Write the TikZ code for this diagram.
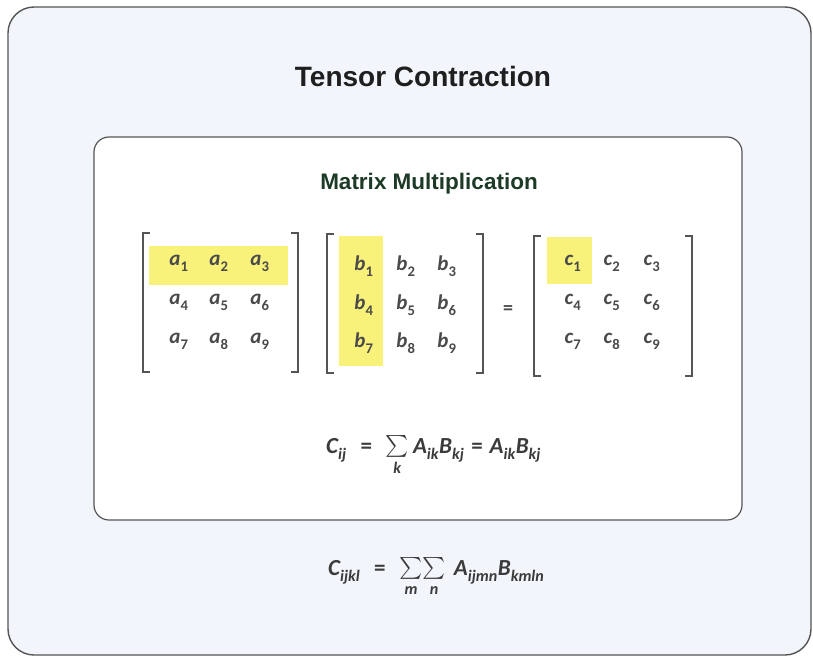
\documentclass[tikz,border=0pt]{standalone}
\usepackage{amsmath}
\usepackage{fontspec}
\setmainfont{Liberation Sans}
\newfontfamily\carl{Carlito}
\newcommand\mi[1]{\text{\carl\bfseries\itshape #1}}
\newcommand\ms[1]{\text{\carl\bfseries\itshape\raisebox{-2.5pt}{#1}}}
\newcommand\mn[1]{\text{\carl\bfseries\raisebox{-3pt}{#1}}}
\newcommand\meq{\mathrel{\text{\carl\bfseries =}}}
\newcommand\msum{\mathop{\vcenter{\hbox{\scalebox{0.88}{$\sum$}}}}\limits}
\newcommand\ent[2]{$\mi{#1}_{\mn{#2}}$}
\definecolor{outerfill}{HTML}{F2F5FC}
\definecolor{boxline}{HTML}{555555}
\definecolor{hl}{HTML}{F8F17A}
\definecolor{entcol}{HTML}{4A4A4A}
\definecolor{titlegreen}{HTML}{1C3A26}
\tikzset{
  bracketline/.style={draw=boxline, line width=1.8pt},
  hlbox/.style={fill=hl, draw=none},
  entry/.style={font=\fontsize{21}{25}\selectfont, text=entcol, inner sep=0pt, anchor=center},
  formula/.style={font=\fontsize{23}{27}\selectfont, text=entcol!80!black, inner sep=0pt, anchor=base west}
}
\begin{document}
\begin{tikzpicture}[x=1pt,y=-1pt]
\useasboundingbox (0,0) rectangle (813,658);
\fill[white] (0,0) rectangle (813,658);
% outer panel
\draw[draw=boxline, fill=outerfill, line width=1.4pt, rounded corners=26pt] (8,7) rectangle (811,655);
\node[font=\bfseries\fontsize{28}{32}\selectfont, text=black!88] (title) at (423,76) {Tensor Contraction};
% inner panel
\draw[draw=boxline, fill=white, line width=1.2pt, rounded corners=15pt] (94,137) rectangle (742,520);
\node[font=\bfseries\fontsize{22.5}{26}\selectfont, text=titlegreen] (sub) at (429,184) {Matrix Multiplication};
% highlights
\fill[hlbox] (149,246) rectangle (288,285);
\fill[hlbox] (339,236) rectangle (383,366);
\fill[hlbox] (547,237) rectangle (592,284);
% brackets
\draw[bracketline] (150,233) -- (143,233) -- (143,372) -- (150,372);
\draw[bracketline] (291,233) -- (298,233) -- (298,372) -- (291,372);
\draw[bracketline] (334,234) -- (327,234) -- (327,373) -- (334,373);
\draw[bracketline] (476,234) -- (483,234) -- (483,373) -- (476,373);
\draw[bracketline] (541,236) -- (534,236) -- (534,376) -- (541,376);
\draw[bracketline] (685,236) -- (692,236) -- (692,376) -- (685,376);
% matrix A
\node[entry] (a1) at (179,263) {\ent{a}{1}};
\node[entry] (a2) at (219,263) {\ent{a}{2}};
\node[entry] (a3) at (260,263) {\ent{a}{3}};
\node[entry] (a4) at (179,302) {\ent{a}{4}};
\node[entry] (a5) at (219,302) {\ent{a}{5}};
\node[entry] (a6) at (260,302) {\ent{a}{6}};
\node[entry] (a7) at (179,341) {\ent{a}{7}};
\node[entry] (a8) at (219,341) {\ent{a}{8}};
\node[entry] (a9) at (260,341) {\ent{a}{9}};
% matrix B
\node[entry] (b1) at (364,266) {\ent{b}{1}};
\node[entry] (b2) at (406,266) {\ent{b}{2}};
\node[entry] (b3) at (447,266) {\ent{b}{3}};
\node[entry] (b4) at (364,305) {\ent{b}{4}};
\node[entry] (b5) at (406,305) {\ent{b}{5}};
\node[entry] (b6) at (447,305) {\ent{b}{6}};
\node[entry] (b7) at (364,343) {\ent{b}{7}};
\node[entry] (b8) at (406,343) {\ent{b}{8}};
\node[entry] (b9) at (447,343) {\ent{b}{9}};
% equals
\node[entry, font=\carl\bfseries\fontsize{20}{22}\selectfont] (eq) at (508,310) {=};
% matrix C
\node[entry] (c1) at (573,263) {\ent{c}{1}};
\node[entry] (c2) at (612,263) {\ent{c}{2}};
\node[entry] (c3) at (652,263) {\ent{c}{3}};
\node[entry] (c4) at (573,302) {\ent{c}{4}};
\node[entry] (c5) at (612,302) {\ent{c}{5}};
\node[entry] (c6) at (652,302) {\ent{c}{6}};
\node[entry] (c7) at (573,341) {\ent{c}{7}};
\node[entry] (c8) at (612,341) {\ent{c}{8}};
\node[entry] (c9) at (652,341) {\ent{c}{9}};
% formulas
\node[formula] (f1) at (326,453) {$\mi{C}_{\ms{ij}} \;\meq\; \msum_{\mi{k}} \mi{A}_{\ms{ik}}\mi{B}_{\ms{kj}} \meq \mi{A}_{\ms{ik}}\mi{B}_{\ms{kj}}$};
\node[formula] (f2) at (328,575) {$\mi{C}_{\ms{ijkl}} \;\meq\; \msum_{\mi{m}}\!\msum_{\mi{n}}\, \mi{A}_{\ms{ijmn}}\mi{B}_{\ms{kmln}}$};
\end{tikzpicture}
\end{document}
